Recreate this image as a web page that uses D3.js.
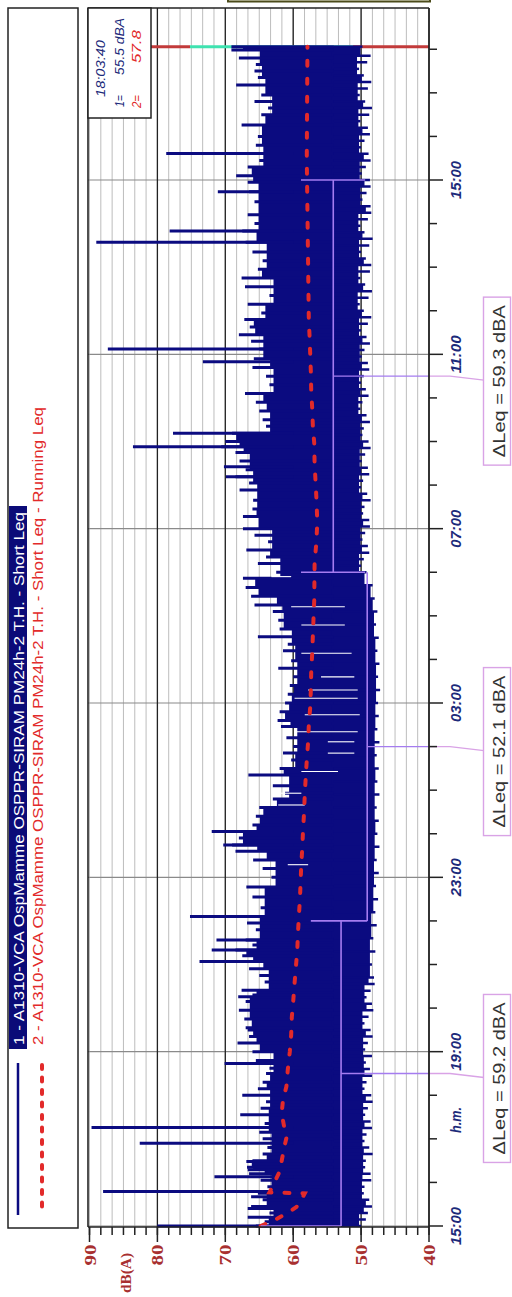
<!DOCTYPE html>
<html>
<head>
<meta charset="utf-8">
<script src="https://cdn.jsdelivr.net/npm/d3@7"></script>
<style>
  body { margin: 0; background: #fff; }
  svg { display: block; font-family: "Liberation Sans", Arial, sans-serif; }
</style>
</head>
<body>
<div id="chart"></div>
<script>
// ---- datos (horas desde las 15:00, dB(A)) ----
const timeTickHours = [0, 4, 8, 12, 16, 20, 24];
const timeTickLabels = ["15:00", "19:00", "23:00", "03:00", "07:00", "11:00", "15:00"];
const dbTicks = [40, 50, 60, 70, 80, 90];
const endHour = 27.06;

// borde superior del Short Leq (nivel tipico)
const shortLeqMax = [
  [0,65.5],[0.1,64.2],[0.2,66.7],[0.3,63.5],[0.4,66.7],[0.45,66.2],[0.6,64.5],[0.67,66.2],[0.75,65.2],[0.9,63.8],[1.05,64.8],[1.2,66.5],
  [1.29,66.7],[1.35,66.8],[1.48,66.9],[1.5,66.0],[1.65,64.5],[1.8,63.8],[2.0,64.5],[2.15,65.0],[2.35,64.2],[2.55,67.8],[2.7,64.8],[2.85,64.0],
  [3.0,67.5],[3.15,65.2],[3.3,64.5],[3.5,64.0],[3.62,63.5],[3.8,65.5],[4.0,66.0],[4.2,68.2],[4.35,66.5],[4.5,66.7],[4.55,67.0],
  [4.75,67.2],[4.95,68.0],[5.15,67.0],[5.26,68.1],[5.3,66.0],[5.41,67.6],[5.6,64.2],[5.75,65.0],[5.9,66.5],[6.07,68.0],[6.2,67.5],
  [6.33,68.5],[6.45,66.0],[6.56,67.0],[6.8,65.5],[6.95,66.8],[7.1,67.0],[7.3,64.8],[7.55,66.0],[7.78,66.9],[8.0,63.2],
  [8.2,64.5],[8.4,65.9],[8.6,68.5],[8.74,69.0],[8.9,68.0],[9.05,69.5],[9.2,66.0],[9.4,65.5],[9.6,65.0],[9.8,63.0],
  [9.93,61.2],[10.1,63.0],[10.35,66.6],[10.5,62.0],[10.69,60.3],[10.85,61.5],[11.0,60.0],[11.2,61.0],[11.46,61.8],[11.6,62.3],
  [11.8,62.0],[12.0,61.2],[12.2,60.8],[12.4,60.5],[12.6,60.0],[12.8,62.2],[12.97,60.3],[13.2,61.5],[13.35,60.8],[13.52,65.2],
  [13.7,62.0],[13.9,62.2],[14.1,63.0],[14.25,65.7],[14.45,66.2],[14.65,67.0],[14.86,67.4],[15.0,62.5],[15.2,65.2],[15.35,64.0],
  [15.51,66.9],[15.7,63.7],[15.85,65.7],[16.0,67.4],[16.28,67.4],[16.45,66.0],[16.65,65.9],[16.89,67.9],[17.05,66.5],[17.19,68.5],
  [17.35,67.0],[17.55,67.9],[17.75,68.5],[17.88,70.6],[18.0,70.0],[18.19,69.0],[18.35,64.0],[18.5,64.5],[18.7,65.0],[18.9,65.5],
  [19.1,67.1],[19.3,63.5],[19.5,64.0],[19.7,66.0],[19.9,65.8],[20.12,65.0],[20.3,66.2],[20.45,68.0],[20.63,66.4],[20.8,67.2],
  [20.95,64.7],[21.15,66.7],[21.35,63.5],[21.55,67.1],[21.75,67.6],[21.95,65.2],[22.15,64.5],[22.35,66.0],[22.57,67.0],[22.83,67.5],
  [23.0,65.7],[23.2,66.7],[23.5,65.7],[23.73,66.5],[23.95,66.7],[24.1,68.4],[24.3,66.7],[24.45,65.0],[24.61,67.0],[24.8,65.5],
  [25.0,65.2],[25.26,67.6],[25.5,64.7],[25.65,63.7],[25.8,65.7],[25.95,64.7],[26.18,68.4],[26.35,65.2],[26.5,65.7],[26.65,65.5],
  [26.8,68.0],[26.98,69.1],[27.06,69.1]
];

// borde inferior del Short Leq (fondo)
const shortLeqMin = [
  [0,50.0],[0.15,49.3],[0.3,49.0],[0.45,48.4],[0.6,48.8],[0.75,49.6],[0.9,49.5],[1.05,48.5],[1.2,48.6],[1.35,49.4],[1.5,49.3],[1.65,48.3],[1.8,48.8],[1.95,49.5],
  [2.1,49.2],[2.25,48.4],[2.4,48.6],[2.55,49.4],[2.7,49.0],[2.85,48.3],[3.0,48.5],[3.15,49.5],[3.3,49.2],[3.45,48.4],[3.6,48.7],[3.75,49.3],
  [3.9,48.4],[4.05,49.4],[4.2,49.0],[4.35,48.3],[4.5,48.6],[4.65,49.5],[4.8,48.9],[4.95,48.2],[5.1,48.4],[5.25,49.2],[5.4,48.6],[5.55,48.0],[5.7,48.1],
  [6.0,48.4],[6.3,47.9],[6.6,48.2],[6.9,47.7],[7.2,47.9],[7.5,47.5],[7.8,47.8],[8.1,47.4],[8.4,47.7],[8.7,47.3],
  [9.0,47.6],[9.3,47.4],[9.6,47.7],[9.9,47.3],[10.2,47.6],[10.5,47.4],[10.8,47.7],[11.1,47.3],[11.4,47.6],[11.7,47.4],
  [12.0,47.5],[12.3,47.2],[12.6,47.5],[12.9,47.3],[13.2,47.6],[13.5,47.4],[13.8,47.8],[14.1,47.6],[14.4,48.0],[14.7,48.3],
  [15.0,49.2],[15.15,50.0],[15.3,49.6],[15.45,48.8],[15.6,49.0],[15.75,49.8],[15.9,49.4],[16.05,48.7],[16.2,48.8],[16.35,49.7],[16.5,49.5],[16.65,48.6],
  [16.8,49.1],[16.95,50.0],[17.1,49.7],[17.25,48.8],[17.4,49.0],[17.55,49.9],[17.7,49.4],[17.85,48.6],[18.0,48.9],[18.15,49.8],[18.3,49.6],[18.45,48.7],
  [18.6,49.2],[18.75,50.1],[18.9,49.8],[19.05,48.9],[19.2,49.3],[19.35,50.0],[19.5,49.6],[19.65,48.8],[19.8,49.0],[19.95,49.9],[20.1,49.5],[20.25,48.7],
  [20.4,49.2],[20.55,50.0],[20.7,49.0],[20.85,48.5],[21.0,49.6],[21.15,50.2],[21.3,48.9],[21.45,48.4],[21.6,49.4],[21.75,50.1],[21.9,48.7],[22.05,48.5],
  [22.2,49.3],[22.35,50.0],[22.5,48.8],[22.65,48.3],[22.8,49.5],[22.95,50.1],[23.1,49.0],[23.25,48.5],[23.4,48.6],[23.55,49.8],[23.7,49.2],[23.85,48.6],
  [24.0,48.7],[24.15,49.9],[24.3,49.3],[24.45,48.6],[24.6,48.9],[24.75,50.0],[24.9,49.5],[25.05,48.7],[25.2,49.0],[25.35,50.1],[25.5,48.8],[25.65,48.4],
  [25.8,49.4],[25.95,50.2],[26.1,49.0],[26.25,48.5],[26.4,49.6],[26.55,50.3],[26.7,49.1],[26.85,48.6],[27.06,49.8]
];

// picos aislados [hora, dB]
const shortLeqSpikes = [
  [0.0,80.0],[0.79,88.0],[1.13,71.6],[1.90,82.6],[2.26,89.7],[3.73,70.1],[6.07,73.8],[6.33,72.0],[6.56,71.3],
  [7.10,75.2],[8.74,70.3],[9.05,72.0],[17.19,69.9],[17.42,70.2],[17.88,83.6],[18.19,77.7],[19.83,73.3],[20.12,87.3],
  [22.57,89.0],[22.83,78.2],[23.73,71.1],[24.61,78.7]
];

// huecos blancos dentro de la banda [hora, dB desde, dB hasta]
const shortLeqGaps = [
  [12.60,55.9,51.0],[12.30,57.8,50.5],[12.11,59.8,50.5],[11.73,58.3,50.2],[11.34,59.8,50.5],[11.11,54.9,51.0],
  [10.85,54.9,51.0],[10.43,58.8,53.4],[9.93,62.7,58.8],[9.66,62.2,58.3],[8.29,60.8,57.8],[14.90,63.2,60.3],
  [14.21,60.3,52.4],[13.79,58.8,52.4],[13.14,58.8,51.4]
];

// Running Leq [hora, dB]
const runningLeq = [
  [0,64.8],[0.14,62.7],[0.3,60.8],[0.44,59.5],[0.6,58.8],[0.75,58.3],[0.77,63.5],[0.83,63.3],[1.25,62.0],[1.82,61.3],
  [2.02,61.0],[2.25,61.3],[2.59,61.7],[2.89,61.5],[3.2,61.0],[3.58,60.8],[4.0,60.5],[4.38,60.3],[4.8,60.2],[5.15,60.0],
  [5.57,59.8],[5.95,59.6],[6.33,59.4],[6.72,59.3],[7.14,59.15],[7.53,59.0],[7.94,58.9],[8.33,58.8],[8.7,58.65],[9.09,58.55],
  [9.48,58.4],[9.89,58.3],[10.31,58.15],[10.69,58.0],[11.11,57.8],[11.5,57.7],[11.89,57.5],[12.3,57.4],[12.69,57.35],[13.15,57.2],
  [13.56,57.1],[13.98,57.0],[14.36,56.9],[15.2,56.85],[15.67,56.6],[16.13,56.45],[16.6,56.55],[17.05,56.7],[17.5,56.85],[17.96,56.9],
  [18.34,57.1],[18.76,57.2],[19.18,57.35],[19.6,57.4],[20.03,57.5],[20.45,57.6],[20.79,57.7],[22,57.8],[24.5,58.0],[27.06,57.9]
];

// periodos de ΔLeq [desde, hasta, nivel de la barra]
const periods = [[0, 7, 52.95], [7, 15, 49.1], [15, 24, 54.1]];
const periodCaps = [[0, 64.8, 52.95], [7, 57.4, 49.1], [15, 58.85, 49.4], [24, 58.85, 49.4]];
const periodLabels = ["ΔLeq = 59.2 dBA", "ΔLeq = 52.1 dBA", "ΔLeq = 59.3 dBA"];

const legendLabels = [
  "1 - A1310-VCA OspMamme OSPPR-SIRAM PM24h-2 T.H. - Short Leq",
  "2 - A1310-VCA OspMamme OSPPR-SIRAM PM24h-2 T.H. - Short Leq - Running Leq"
];
const cursorTime = "18:03:40";
const cursorValues = ["55.5 dBA", "57.8"];

// ---- colores ----
const navy = "#0b0b80";
const red = "#e22a2a";
const violet = "#a57cf0";
const plum = "#d9a3e6";
const axisRed = "#a83030";
const timeBlue = "#1c2a7a";

// ---- svg ----
const W = 512, H = 1297;
const svg = d3.select("#chart").append("svg").attr("width", W).attr("height", H);

const plotL = 88, plotR = 429, plotT = 8, plotB = 1227;
const x = d3.scaleLinear().domain([40, 90]).range([429, 89.5]);
const y = d3.scaleLinear().domain([0, 24]).range([1226, 180]);

// texto vertical (se lee de abajo hacia arriba)
const vtext = (g, bx, by, str, anchor) =>
  g.append("text")
    .attr("transform", `translate(${bx},${by}) rotate(-90)`)
    .attr("text-anchor", anchor || "start")
    .text(str);

// caja de arriba (cortada)
svg.append("rect").attr("x", 228).attr("y", -20).attr("width", 202).attr("height", 21.5)
  .attr("fill", "#fbfbea").attr("stroke", "#4b4b1a").attr("stroke-width", 2);

// ---- rejilla ----
const grid = svg.append("g");
const dbMinor = d3.range(31).map(i => 40 + i * 10 / 6);
grid.selectAll(".gminor").data(dbMinor).enter().append("line")
  .attr("x1", d => x(d)).attr("x2", d => x(d))
  .attr("y1", plotT).attr("y2", plotB)
  .attr("stroke", "#bdbdbd").attr("stroke-width", 1);
grid.selectAll(".gh").data(timeTickHours).enter().append("line")
  .attr("x1", plotL).attr("x2", plotR)
  .attr("y1", d => y(d)).attr("y2", d => y(d))
  .attr("stroke", "#8a8a8a").attr("stroke-width", 1.2);
grid.selectAll(".gmajor").data(dbTicks.filter(d => d > 40 && d < 90)).enter().append("line")
  .attr("x1", d => x(d)).attr("x2", d => x(d))
  .attr("y1", plotT).attr("y2", plotB)
  .attr("stroke", "#222").attr("stroke-width", 1.3);

// linea del cursor final
const yEnd = y(endHour);
[[151, 190, "#c23a3a"], [190, 353, "#3fe3b0"], [353, 429, "#c23a3a"]].forEach(s => {
  svg.append("line").attr("x1", s[0]).attr("x2", s[1]).attr("y1", yEnd).attr("y2", yEnd)
    .attr("stroke", s[2]).attr("stroke-width", 3);
});

// ---- Short Leq ----
const data = svg.append("g");
const midDb = 54;
// cuerpo: borde = minimo (o maximo) local de las muestras vecinas, las muestras van como barras
const bodyHi = shortLeqMax.map((d, i, a) =>
  [d[0], d3.min(a.slice(Math.max(0, i - 1), i + 2), e => e[1]) - 0.6]);
const bodyLo = shortLeqMin.map((d, i, a) =>
  [d[0], d3.max(a.slice(Math.max(0, i - 1), i + 2), e => e[1]) + 0.3]);
const areaHi = d3.area().curve(d3.curveStepBefore)
  .y(d => y(d[0])).x0(x(midDb) + 2).x1(d => x(d[1]));
const areaLo = d3.area().curve(d3.curveStepBefore)
  .y(d => y(d[0])).x0(x(midDb) - 2).x1(d => x(d[1]));
data.append("path").attr("d", areaHi(bodyHi)).attr("fill", navy);
data.append("path").attr("d", areaLo(bodyLo)).attr("fill", navy);

data.selectAll(".barHi").data(shortLeqMax).enter().append("line")
  .attr("x1", x(midDb)).attr("x2", d => x(d[1]))
  .attr("y1", d => y(d[0])).attr("y2", d => y(d[0]))
  .attr("stroke", navy).attr("stroke-width", 3);
data.selectAll(".barLo").data(shortLeqMin).enter().append("line")
  .attr("x1", x(midDb)).attr("x2", d => x(d[1]))
  .attr("y1", d => y(d[0])).attr("y2", d => y(d[0]))
  .attr("stroke", navy).attr("stroke-width", 2.5);

data.selectAll(".spike").data(shortLeqSpikes).enter().append("line")
  .attr("x1", x(60)).attr("x2", d => x(d[1]))
  .attr("y1", d => y(d[0])).attr("y2", d => y(d[0]))
  .attr("stroke", navy).attr("stroke-width", 3);

data.selectAll(".gap").data(shortLeqGaps).enter().append("line")
  .attr("x1", d => x(d[1])).attr("x2", d => x(d[2]))
  .attr("y1", d => y(d[0])).attr("y2", d => y(d[0]))
  .attr("stroke", "#fff").attr("stroke-width", 1.1);

// ---- Running Leq ----
const line = d3.line().x(d => x(d[1])).y(d => y(d[0]));
data.append("path").attr("d", line(runningLeq))
  .attr("fill", "none").attr("stroke", red).attr("stroke-width", 4)
  .attr("stroke-dasharray", "5,13").attr("stroke-linecap", "round");

// ---- periodos ΔLeq ----
const br = svg.append("g");
br.selectAll(".pv").data(periods).enter().append("line")
  .attr("x1", d => x(d[2])).attr("x2", d => x(d[2]))
  .attr("y1", d => y(d[0])).attr("y2", d => y(d[1]))
  .attr("stroke", violet).attr("stroke-width", 1.6);
br.selectAll(".pc").data(periodCaps).enter().append("line")
  .attr("x1", d => x(d[1])).attr("x2", d => x(d[2]))
  .attr("y1", d => y(d[0])).attr("y2", d => y(d[0]))
  .attr("stroke", violet).attr("stroke-width", 1.6);
periods.forEach((p, i) => {
  const ym = y((p[0] + p[1]) / 2);
  br.append("line").attr("x1", x(p[2])).attr("x2", plotR).attr("y1", ym).attr("y2", ym)
    .attr("stroke", violet).attr("stroke-width", 1.4);
  br.append("polyline").attr("points", `${plotR},${ym} 450,${ym} 484,${ym + 4}`)
    .attr("fill", "none").attr("stroke", plum).attr("stroke-width", 1.4);
  const cy = ym + 5;
  br.append("rect").attr("x", 483.5).attr("y", cy - 84).attr("width", 27).attr("height", 168)
    .attr("fill", "#fff").attr("stroke", plum).attr("stroke-width", 1.4);
  vtext(br, 505, cy, periodLabels[i], "middle")
    .attr("font-size", 17).attr("fill", "#333").attr("textLength", 152)
    .attr("lengthAdjust", "spacingAndGlyphs");
});

// ---- marco y ejes ----
const frame = svg.append("g").attr("stroke", "#222").attr("fill", "none");
frame.append("line").attr("x1", plotL).attr("x2", plotL).attr("y1", plotT).attr("y2", plotB).attr("stroke-width", 1.6);
frame.append("line").attr("x1", plotL).attr("x2", plotR).attr("y1", plotT).attr("y2", plotT).attr("stroke-width", 1.3);
frame.append("line").attr("x1", plotR).attr("x2", plotR).attr("y1", plotT).attr("y2", plotB).attr("stroke-width", 1.8);
frame.append("line").attr("x1", plotL).attr("x2", plotR).attr("y1", plotB).attr("y2", plotB).attr("stroke-width", 1.6);

// eje de tiempo (derecha)
const hours = d3.range(0, 28);
svg.selectAll(".th").data(hours).enter().append("line")
  .attr("x1", plotR).attr("x2", d => d % 4 === 0 ? 443 : 437)
  .attr("y1", d => y(d)).attr("y2", d => y(d))
  .attr("stroke", "#222").attr("stroke-width", 1.5);
const tl = svg.append("g").attr("font-size", 14.5).attr("font-weight", "bold")
  .attr("font-style", "italic").attr("fill", timeBlue);
timeTickHours.forEach((h, i) => vtext(tl, 461, y(h), timeTickLabels[i], "middle")
  .attr("textLength", 38).attr("lengthAdjust", "spacingAndGlyphs"));
vtext(tl, 461, y(2.43), "h.m.", "middle").attr("textLength", 26).attr("lengthAdjust", "spacingAndGlyphs");

// eje dB (abajo)
svg.selectAll(".dbt").data(dbMinor).enter().append("line")
  .attr("x1", d => x(d)).attr("x2", d => x(d))
  .attr("y1", plotB).attr("y2", plotB + 8)
  .attr("stroke", "#222").attr("stroke-width", 1.5);
svg.selectAll(".dbT").data(dbTicks).enter().append("line")
  .attr("x1", d => x(d)).attr("x2", d => x(d))
  .attr("y1", plotB).attr("y2", plotB + 15)
  .attr("stroke", "#222").attr("stroke-width", 1.5);
const dl = svg.append("g").attr("font-family", "'Liberation Serif', serif")
  .attr("font-weight", "bold").attr("font-size", 16).attr("fill", axisRed);
dbTicks.forEach(d => vtext(dl, x(d) + 6, 1255, String(d), "middle")
  .attr("textLength", 21).attr("lengthAdjust", "spacingAndGlyphs"));
vtext(dl, 131, 1273, "dB(A)", "middle").attr("font-size", 15)
  .attr("textLength", 40).attr("lengthAdjust", "spacingAndGlyphs");

// ---- leyenda ----
const lg = svg.append("g");
lg.append("rect").attr("x", 8).attr("y", 8).attr("width", 70).attr("height", 1220)
  .attr("fill", "#fff").attr("stroke", "#222").attr("stroke-width", 1.5);
lg.append("rect").attr("x", 9).attr("y", 506).attr("width", 18).attr("height", 543).attr("fill", "#0b0b78");
vtext(lg, 24, 1045, legendLabels[0]).attr("font-size", 14.5).attr("fill", "#fff")
  .attr("textLength", 533).attr("lengthAdjust", "spacingAndGlyphs");
vtext(lg, 43, 1045, legendLabels[1]).attr("font-size", 14.5).attr("fill", red)
  .attr("textLength", 638).attr("lengthAdjust", "spacingAndGlyphs");
lg.append("line").attr("x1", 18).attr("x2", 18).attr("y1", 1063).attr("y2", 1215)
  .attr("stroke", navy).attr("stroke-width", 2.5);
lg.append("line").attr("x1", 42).attr("x2", 42).attr("y1", 1065).attr("y2", 1213)
  .attr("stroke", red).attr("stroke-width", 4).attr("stroke-dasharray", "4,8.5")
  .attr("stroke-linecap", "round");

// ---- cursor ----
const cg = svg.append("g").attr("font-style", "italic").attr("font-size", 12.5);
cg.append("rect").attr("x", 88).attr("y", 8).attr("width", 63).attr("height", 110)
  .attr("fill", "#fff").attr("stroke", "#222").attr("stroke-width", 1.5);
vtext(cg, 105, 97, cursorTime).attr("fill", timeBlue).attr("textLength", 57).attr("lengthAdjust", "spacingAndGlyphs");
vtext(cg, 124, 107, "1=").attr("fill", timeBlue).attr("textLength", 12).attr("lengthAdjust", "spacingAndGlyphs");
vtext(cg, 124, 75, cursorValues[0]).attr("fill", timeBlue).attr("textLength", 57).attr("lengthAdjust", "spacingAndGlyphs");
vtext(cg, 141, 108, "2=").attr("fill", red).attr("textLength", 13).attr("lengthAdjust", "spacingAndGlyphs");
vtext(cg, 141, 63, cursorValues[1]).attr("fill", red).attr("textLength", 33).attr("lengthAdjust", "spacingAndGlyphs");
</script>
</body>
</html>
